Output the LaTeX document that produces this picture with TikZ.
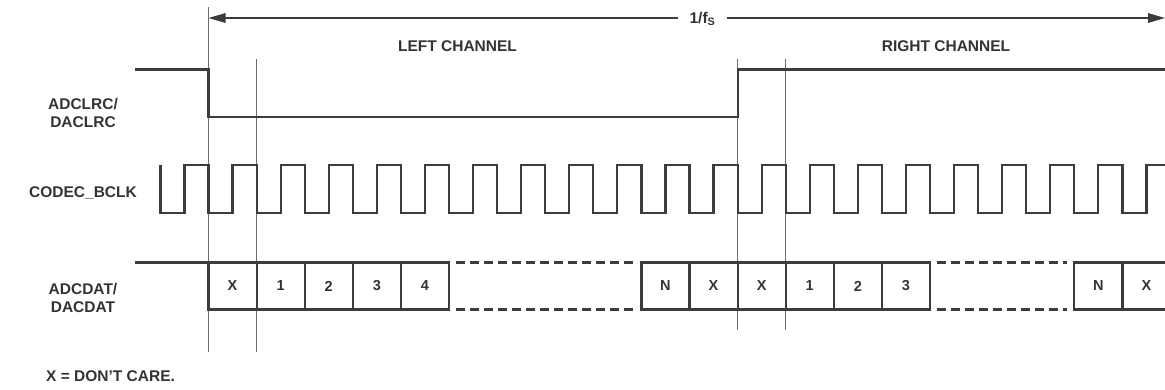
\documentclass[tikz,border=0pt]{standalone}
\usepackage{fontspec}
\setmainfont{Liberation Sans}
\usetikzlibrary{arrows.meta}
\definecolor{ink}{HTML}{3C3C3C}
\definecolor{txt}{HTML}{333333}
\definecolor{guide}{HTML}{6E6E6E}
\begin{document}
\begin{tikzpicture}[x=1pt,y=-1pt,
  sig/.style={draw=ink,line width=2.2pt},
  dashline/.style={draw=ink,line width=2.2pt,dash pattern=on 9pt off 5pt},
  guideline/.style={draw=guide,line width=1.1pt},
  arr/.style={draw=ink,line width=1.6pt,-{Triangle[length=17pt,width=9.5pt]}},
  lbl/.style={font=\bfseries\fontsize{15.5}{18}\selectfont,text=txt,align=center,inner sep=0pt},
  cell/.style={font=\bfseries\fontsize{14.5}{14}\selectfont,text=txt,inner sep=0pt},
]
\useasboundingbox (0,0) rectangle (1165,389);
\def\p{48.1}
\def\xo{208.5}
\def\ytop{262.5}
\def\ybot{309.5}
% guide lines
\coordinate (g0t) at (\xo,7);
\coordinate (g0b) at (\xo,352);
\coordinate (g1t) at ({\xo+\p},59);
\coordinate (g1b) at ({\xo+\p},352);
\coordinate (g2t) at ({\xo+11*\p},59);
\coordinate (g2b) at ({\xo+11*\p},329.5);
\coordinate (g3t) at ({\xo+12*\p},59);
\coordinate (g3b) at ({\xo+12*\p},329.5);
\draw[guideline] (g0t) -- (g0b);
\draw[guideline] (g1t) -- (g1b);
\draw[guideline] (g2t) -- (g2b);
\draw[guideline] (g3t) -- (g3b);
% 1/fs arrow
\node[lbl,fill=white,inner xsep=11pt,inner ysep=3pt] (fs) at (702.5,19) {1/f\textsubscript{S}};
\coordinate (al) at (\xo,18);
\coordinate (ar) at (1165,18);
\draw[arr] (fs.west |- al) -- (al);
\draw[arr] (fs.east |- ar) -- (ar);
% channel labels
\node[lbl] (lch) at (457.5,46) {LEFT CHANNEL};
\node[lbl] (rch) at (946,46) {RIGHT CHANNEL};
% signal labels
\node[lbl] (lrc) at (83,113) {ADCLRC/\\DACLRC};
\node[lbl] (bclk) at (83,193) {CODEC\_BCLK};
\node[lbl] (dat) at (83,298) {ADCDAT/\\DACDAT};
\node[lbl,anchor=west] (note) at (46,376) {X = DON’T CARE.};
% LRC
\draw[sig] (135,69.5) -- (\xo,69.5) -- (\xo,117) -- ({\xo+11*\p},117) -- ({\xo+11*\p},69.5) -- (1165,69.5);
% BCLK
\draw[sig,line join=miter] ({\xo-\p},165) -- ({\xo-\p},213)
  \foreach \k in {0,...,19} { -- ({\xo+\k*\p-\p/2},213) -- ({\xo+\k*\p-\p/2},165) -- ({\xo+\k*\p},165) -- ({\xo+\k*\p},213) }
  -- ({\xo+20*\p-\p/2},213) -- ({\xo+20*\p-\p/2},165) -- (1165,165);
% DATA
\draw[sig] (135,\ytop) -- (\xo,\ytop);
\draw[sig] (\xo,\ytop) rectangle ({\xo+5*\p},\ybot);
\foreach \k in {1,...,4} \draw[sig] ({\xo+\k*\p},\ytop) -- ({\xo+\k*\p},\ybot);
\draw[sig] ({\xo+9*\p},\ytop) rectangle ({\xo+15*\p},\ybot);
\foreach \k in {10,...,14} \draw[sig] ({\xo+\k*\p},\ytop) -- ({\xo+\k*\p},\ybot);
\draw[sig] (1166,\ytop) -- ({\xo+18*\p},\ytop) -- ({\xo+18*\p},\ybot) -- (1166,\ybot);
\draw[sig] ({\xo+19*\p},\ytop) -- ({\xo+19*\p},\ybot);
\draw[dashline] ({\xo+5*\p+7},\ytop) -- ({\xo+9*\p-7},\ytop);
\draw[dashline] ({\xo+5*\p+7},\ybot) -- ({\xo+9*\p-7},\ybot);
\draw[dashline] ({\xo+15*\p+7},\ytop) -- ({\xo+18*\p-7},\ytop);
\draw[dashline] ({\xo+15*\p+7},\ybot) -- ({\xo+18*\p-7},\ybot);
% cell labels
\def\yc{286}
\node[cell] (c0) at ({\xo+0.5*\p},\yc) {X};
\node[cell] (c1) at ({\xo+1.5*\p},\yc) {1};
\node[cell] (c2) at ({\xo+2.5*\p},\yc) {2};
\node[cell] (c3) at ({\xo+3.5*\p},\yc) {3};
\node[cell] (c4) at ({\xo+4.5*\p},\yc) {4};
\node[cell] (c9) at ({\xo+9.5*\p},\yc) {N};
\node[cell] (c10) at ({\xo+10.5*\p},\yc) {X};
\node[cell] (c11) at ({\xo+11.5*\p},\yc) {X};
\node[cell] (c12) at ({\xo+12.5*\p},\yc) {1};
\node[cell] (c13) at ({\xo+13.5*\p},\yc) {2};
\node[cell] (c14) at ({\xo+14.5*\p},\yc) {3};
\node[cell] (c18) at ({\xo+18.5*\p},\yc) {N};
\node[cell] (c19) at ({\xo+19.5*\p},\yc) {X};
\end{tikzpicture}
\end{document}
